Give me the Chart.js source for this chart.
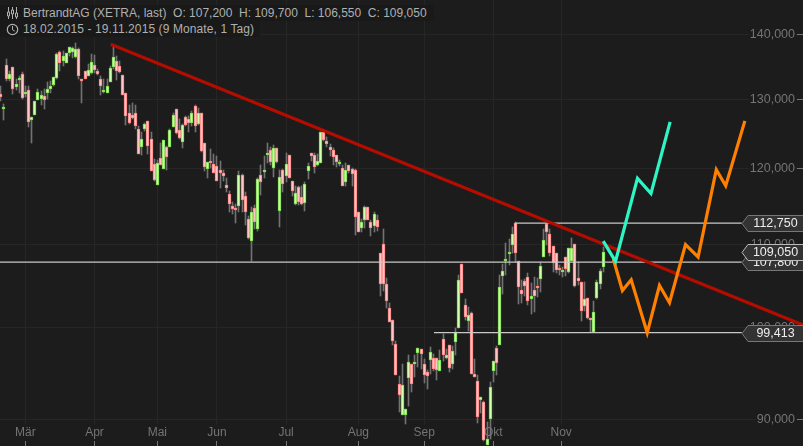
<!DOCTYPE html>
<html>
<head>
<meta charset="utf-8">
<title>BertrandtAG</title>
<script src="https://cdn.jsdelivr.net/npm/chart.js@4/dist/chart.umd.min.js"></script>
<style>
  html, body { margin: 0; padding: 0; background: #1c1c1c; overflow: hidden; }
  #wrap { position: relative; width: 803px; height: 446px; }
  canvas { display: block; }
  .line { position: absolute; left: 0; height: 16px; background: #191919; color: #b0b0b0; padding-left: 23px;
          box-sizing: border-box; font: 12px/16px "Liberation Sans", Arial, sans-serif; }
  .line span { white-space: pre; }
  .line svg { position: absolute; left: 6px; top: 2px; }
</style>
</head>
<body>
<div id="wrap">
  <canvas id="c" width="803" height="446"></canvas>
  <div class="line" style="top:5px;width:434px">
    <svg width="13" height="12" viewBox="0 0 13 12" fill="none" stroke="#b0b0b0"><path d="M2.5 0v12M6.5 0v12M10.5 0v12"/><path d="M1.5 5h2v4h-2zM5.5 3h2v4h-2zM9.5 6h2v4h-2z" fill="#1c1c1c"/></svg>
    <span>BertrandtAG (XETRA, last)  O: 107,200  H: 109,700  L: 106,550  C: 109,050</span>
  </div>
  <div class="line" style="top:21px;width:260px;letter-spacing:.1px">
    <svg width="13" height="13" viewBox="0 0 13 13" fill="none" stroke="#b0b0b0"><circle cx="6.5" cy="6.5" r="5.2" stroke-width="1.2"/><path d="M6.5 3v3.7l2.3 1.4"/></svg>
    <span>18.02.2015 - 19.11.2015 (9 Monate, 1 Tag)</span>
  </div>
</div>
<script>
// candles, one per trading day from 18.02.2015 to 19.11.2015
const opens = [
  130.8,128.8,135.15,133.0,134.95,131.8,132.9,133.85,131.0,131.4,
  126.95,127.65,129.95,130.05,130.45,131.0,131.5,132.1,133.2,137.3,
  135.9,135.5,137.1,137.3,136.45,137.75,133.1,134.3,133.5,134.0,
  135.25,134.3,133.1,131.2,131.0,132.55,134.9,135.9,135.1,133.7,
  130.9,128.0,127.6,128.0,125.7,123.1,125.7,126.85,124.15,120.7,
  117.85,121.55,119.95,123.0,123.1,125.95,128.55,125.55,123.8,127.3,
  127.05,126.5,129.0,126.4,128,123.6,119.95,121.05,120.7,120.4,
  119.85,119.4,117.75,116.6,115,114.75,114.95,119.1,116.3,113.25,
  110.45,114.7,112.05,119.1,119.7,122.1,122.7,120.15,122.85,114.3,
  119.8,119,122,118.4,115.2,117.5,116.15,115.45,119.7,122.15,
  121.95,120.5,120.8,125.15,123.85,123.1,122.7,122,120.65,120.15,
  118.25,120.55,120,119.85,114.2,112.1,113.1,114.85,112.85,112.35,
  113.15,108.9,110.1,105.1,102.25,100.9,98.1,93.7,90.45,90.45,
  94.4,95.9,95.9,97.1,97.55,95.9,95,96.35,96.55,96.55,
  95.15,98.75,96.55,98,95.9,98.3,99.95,107.55,102.6,100.8,
  101.65,94.8,94.05,92.05,91.85,87.4,90.05,95.1,97.65,98.05,
  106.05,107.95,108.9,109.95,112.75,107.9,104.4,105.5,106,103.3,
  104.4,104.95,105.7,108.45,112.6,111.3,109.85,109,107.05,106.65,
  108.5,106.6,108,110.1,105.85,105.4,102.5,103.45,101.15,99.5,
  103.45,105.15,107.2
];
const highs = [
  131.95,129.3,136.1,134.3,134.95,133.0,133.5,134.1,131.95,131.95,
  127.3,129.7,131.5,131.2,131.5,132.6,132.7,133.4,137.1,137.4,
  137.4,137.1,138.05,138.05,138.65,137.9,133.1,134.3,135.3,137.0,
  136.85,134.6,133.5,133.1,133.1,135.05,138.25,136.6,135.9,133.7,
  130.9,129.2,129.4,129.15,126.0,125.25,126.5,126.85,125.15,121.35,
  121.25,123.6,124,123.25,125.6,127.9,128.55,127.05,126.35,127.45,
  127.45,128.25,129.1,128.7,128,123.6,121,122.75,122.05,121.8,
  121.05,119.9,118.75,117,115.5,115.3,119.7,119.25,116.85,113.65,
  114.85,115.15,118.7,120.6,121.8,123.6,123,123.35,122.85,119.9,
  120,122.15,122,118.4,117.6,117.6,117.6,118.15,120.85,122.15,
  122.15,122.05,125.15,125.3,124.5,123.55,122.85,122,121.2,120.5,
  120.85,120.55,120.15,120,114.2,113.3,115,114.85,113.2,114.2,
  113.75,108.9,112,105.85,102.9,100.9,98.45,94.6,95.9,91.1,
  96.85,95.9,96.95,97.65,97.55,96.5,95.2,97.75,97.05,96.55,
  97.4,99.25,97.6,98,97.9,99.95,106.25,107.55,103.35,102.35,
  101.75,96.5,94.75,92.3,91.95,89.75,93.95,96.25,97.95,106.25,
  107.6,110.2,110.65,112.2,112.85,107.9,105.6,105.7,106.5,105.3,
  106,105.8,107.8,112,112.85,112,109.85,109,107.4,107.2,
  108.5,109.6,110.9,110.1,107.8,105.4,105.4,103.45,101.15,103.15,
  105.6,107,109.7
];
const lows = [
  129.7,127.0,132.7,132.7,130.8,131.4,131.0,130.05,130.4,125.9,
  123.6,127.65,129.85,129.1,128.6,130,130.9,131.95,133.0,134.3,
  135.05,135.5,136.6,136.35,136.35,133.1,129.5,133.0,133.5,133.85,
  134.0,133.6,130.65,130.9,130.9,132.55,134.55,132.9,134.0,130.65,
  126.2,126.3,127.05,125.6,122.1,121.95,125.4,122.05,119.7,118.35,
  117.85,120.5,119.95,119.8,123.1,125.85,124.9,124.2,122.95,126.1,
  125.25,126.1,125.15,126.2,122.4,119.7,118.7,120.15,119.4,118.35,
  117.4,118.35,116.85,114.2,114,112.8,114.2,114.2,112.45,110.75,
  107.95,112,111.75,116.5,118.8,120.85,120.6,118.9,120.85,112.3,
  116.85,118.15,118.7,116.3,115.15,115.15,115.15,114.3,118.6,121.1,
  119.4,120.4,120.75,123.95,123,121.8,120.5,120.25,120.4,117.7,
  117.7,119.4,117.6,111.25,111.55,111.65,112.1,113.1,111.1,111.65,
  111.7,103.7,104.3,102.3,100.65,98.05,94.65,90.75,90.45,89.5,
  91.4,92.9,94.45,95.6,95.4,93.8,93.2,94.85,95.1,94.1,
  95.15,96.2,96.5,95,95.3,96.85,99.95,104,100.85,99.65,
  94.8,94.45,89.65,90.65,87.75,87.4,87.95,93.9,94.65,98.05,
  103.95,106.2,107.45,109,107.85,102.75,102.9,103.75,102.65,101.55,
  101.75,103.55,104.15,108.4,110,108.6,106.6,106.45,106.25,106,
  106.1,106.5,108,104.75,105,100.75,101.95,100.95,99.5,99.5,
  103.35,104.55,106.55
];
const closes = [
  130.4,128.9,133.0,133.9,131.5,132.3,133.25,130.25,131.1,126.7,
  127.3,129.7,131.1,130.7,129.95,131.5,132.0,133.4,137.0,135.5,
  136.65,137.1,138.05,137.9,137.75,133.5,133.0,133.0,134.5,135.7,
  134.45,133.9,131.95,131.4,132.0,134.8,136.5,134.3,134.2,130.7,
  127.5,126.5,127.25,126.1,122.1,124.15,126.3,123.25,119.7,118.5,
  120.85,120.55,124,121.7,125.45,127.6,125.1,124.4,126.15,126.25,
  126.5,128.0,126.0,128.0,122.5,120.25,121,120.95,119.5,118.35,
  119.5,119.05,117.45,115.3,114.65,114.65,119.1,115.85,114.15,110.85,
  114.2,112.95,118.55,118.25,119.9,122.2,120.95,122.85,120.95,118.95,
  117.9,120.7,118.75,117.05,116.7,115.5,115.2,117.9,120.4,121.8,
  120.25,121.15,125.15,124.1,123.5,122.7,121.65,121,121,117.7,
  119.85,119.75,119.3,113.6,111.65,112.85,114.85,113.1,112.15,113.95,
  112.3,105.1,105.1,103.05,100.65,98.5,94.65,92.5,93.6,91.1,
  96.1,93.7,96.15,97.65,97,94.7,94.6,97.2,95.3,95.25,
  96.35,96.95,96.9,95.45,97.35,99.5,105.6,104,101.25,101.4,
  94.8,94.45,90.2,92.3,87.85,87.95,93.35,96.25,96,104.75,
  106.7,108.15,109.1,111.3,108.9,104.75,103.9,104.85,103.15,103.7,
  103.65,104.85,107.3,110.6,111.65,108.9,107.7,106.8,106.8,106.85,
  107,109.6,109.6,104.9,105.45,101.9,103.35,101.05,101.05,101.75,
  105.4,106.7,109.05
];

// axis ticks
const monthNames = ['Mär', 'Apr', 'Mai', 'Jun', 'Jul', 'Aug', 'Sep', 'Okt', 'Nov'];
const monthStart = [8, 30, 50, 69, 91, 114, 135, 157, 178.6];
const priceTicks = [90, 100, 110, 120, 130, 140];

// drawn lines: trading day index and price
const trendX = [35.16, 255.6];
const trendY = [138.48, 100.3];
const cyanX = [192, 195.9, 202.9, 207.2, 213.3];
const cyanY = [110.44, 107.9, 118.7, 116.65, 126.65];
const orangeX = [195.2, 198.1, 200.9, 206, 209.9, 213.1, 218.2, 222.2, 228, 231, 237.1];
const orangeY = [108.2, 104.35, 105.65, 99.4, 104.95, 102.9, 110, 108.45, 119.9, 117.7, 126.8];

// horizontal levels with their tags, last one on top
const levelValues = [107.8, 112.75, 99.413, 109.05];
const levelFrom = [-0.1, 163.9, 138.1, null];
const levelTo = 236.1;

const BG = '#1c1c1c';
const fmt = v => v.toFixed(3).replace('.', ',');
const isUp = closes.map((c, i) => c >= opens[i]);
const toPoints = (xs, ys) => xs.map((x, i) => ({ x: x, y: ys[i] }));

// the scales sit inside the plot, so they get no room of their own
const noPadding = s => { s.paddingTop = s.paddingBottom = s.paddingLeft = s.paddingRight = 0; };

// keep candles on whole pixels so they stay crisp
const snapBars = {
  id: 'snapBars',
  beforeDatasetsDraw(chart) {
    [0, 1].forEach(d => {
      chart.getDatasetMeta(d).data.forEach(el => {
        el.x = Math.floor(el.x) + 0.5;
        const top = Math.round(Math.min(el.y, el.base));
        const bottom = Math.round(Math.max(el.y, el.base));
        el.y = top;
        el.base = Math.max(bottom, top + (d === 1 ? 2 : 1));
      });
    });
  }
};

// price tags on the right
const priceTags = {
  id: 'priceTags',
  afterDatasetsDraw(chart) {
    const ctx = chart.ctx;
    const y = chart.scales.y;
    levelValues.forEach((v, i) => {
      const py = Math.round(y.getPixelForValue(v)) + 0.5;
      const current = levelFrom[i] === null;
      ctx.beginPath();
      ctx.moveTo(742, py);
      ctx.lineTo(748, py - 8);
      ctx.lineTo(804, py - 8);
      ctx.lineTo(804, py + 8);
      ctx.lineTo(748, py + 8);
      ctx.closePath();
      ctx.fillStyle = '#333333';
      ctx.fill();
      ctx.lineWidth = 1;
      ctx.strokeStyle = current ? '#bbbbbb' : '#777777';
      ctx.stroke();
      ctx.fillStyle = '#eeeeee';
      ctx.font = '12.5px "Liberation Sans", Arial, sans-serif';
      ctx.textAlign = 'center';
      ctx.textBaseline = 'middle';
      ctx.fillText(fmt(v), 775.5, py + 0.5);
    });
  }
};

const datasets = [
  {
    type: 'bar', label: 'range', order: 5, grouped: false, clip: false,
    data: lows.map((l, i) => ({ x: i, y: [l, highs[i]] })),
    backgroundColor: '#727272', borderWidth: 0, barThickness: 1
  },
  {
    type: 'bar', label: 'body', order: 4, grouped: false, clip: false,
    data: opens.map((o, i) => ({ x: i, y: [o, closes[i]] })),
    backgroundColor: isUp.map(u => u ? '#d0ffb0' : '#ffc4c4'),
    borderColor: isUp.map(u => u ? '#78dc48' : '#ff8080'),
    borderWidth: 1, borderSkipped: false, barThickness: 3
  }
];
levelValues.forEach((v, i) => {
  if (levelFrom[i] === null) return;
  datasets.push({
    type: 'line', order: 3, data: [{ x: levelFrom[i], y: v }, { x: levelTo, y: v }],
    borderColor: '#c8c8c8', borderWidth: 1.2, pointRadius: 0, clip: false
  });
});
datasets.push(
  { type: 'line', order: 2, data: toPoints(trendX, trendY), borderColor: '#b30c00', borderWidth: 3.2, pointRadius: 0, clip: false },
  { type: 'line', order: 1, data: toPoints(orangeX, orangeY), borderColor: '#ff7f00', borderWidth: 3.2, pointRadius: 0, borderJoinStyle: 'miter' },
  { type: 'line', order: 0, data: toPoints(cyanX, cyanY), borderColor: '#2ff5c4', borderWidth: 3.2, pointRadius: 0, borderJoinStyle: 'miter' }
);

Chart.defaults.font.family = '"Liberation Sans", Arial, sans-serif';
Chart.defaults.font.size = 12;

new Chart(document.getElementById('c'), {
  data: { datasets: datasets },
  plugins: [snapBars, priceTags],
  options: {
    responsive: false,
    animation: false,
    events: [],
    layout: { padding: 0, autoPadding: false },
    plugins: { legend: { display: false }, tooltip: { enabled: false }, title: { display: false } },
    scales: {
      x: {
        type: 'linear', position: 'bottom', min: -0.1, max: 253.7, bounds: 'data', offset: false,
        afterFit: s => { s.height = 5; noPadding(s); },
        afterBuildTicks: s => { s.ticks = monthStart.map(v => ({ value: v })); },
        grid: { color: '#262626', tickColor: '#777777', tickLength: 5, offset: false },
        border: { display: false },
        ticks: {
          autoSkip: false, maxRotation: 0, mirror: true, padding: 1, color: '#747474',
          showLabelBackdrop: true, backdropColor: BG, backdropPadding: 1,
          callback: (v, i) => monthNames[i]
        }
      },
      y: {
        type: 'logarithmic', position: 'right', min: 87.78, max: 145.7, bounds: 'data',
        afterFit: s => { s.width = 6; noPadding(s); },
        afterBuildTicks: s => { s.ticks = priceTicks.map(v => ({ value: v })); },
        grid: { color: '#262626', tickColor: '#777777', tickLength: 6 },
        border: { display: false },
        ticks: {
          autoSkip: false, mirror: true, padding: -2, color: '#747474',
          major: { enabled: false },
          showLabelBackdrop: true, backdropColor: BG, backdropPadding: 1,
          font: { size: 12.5 },
          callback: v => fmt(v)
        }
      }
    }
  }
});
</script>
</body>
</html>
